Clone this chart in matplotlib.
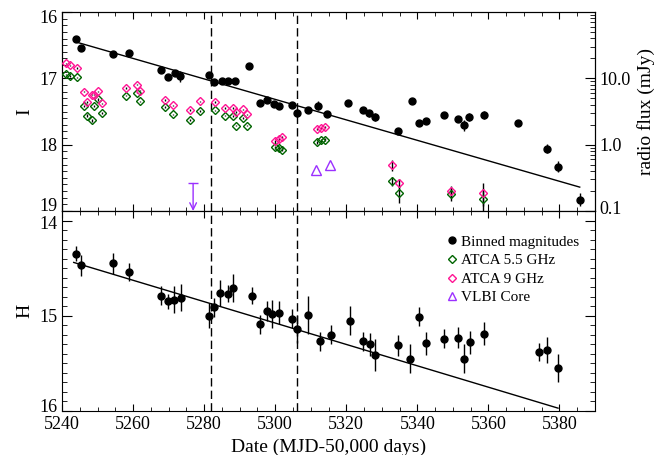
"""Optical (I, H) and radio light curves around the outburst."""

import matplotlib
matplotlib.use("Agg")
import matplotlib.pyplot as plt
from matplotlib.ticker import MultipleLocator, FixedLocator, FixedFormatter, LogLocator, NullFormatter
from matplotlib.transforms import ScaledTranslation

plt.rcParams["font.family"] = ["Liberation Serif", "DejaVu Serif"]

# ------------------------------------------------------------------ data
# I band binned magnitudes
i_days = [5243.8, 5245.4, 5254.4, 5258.9, 5267.8, 5269.8, 5271.9, 5273.3,
          5281.3, 5282.9, 5285.0, 5286.8, 5288.7, 5292.7, 5295.7, 5297.6,
          5299.6, 5301.2, 5304.7, 5306.2, 5309.1, 5312.1, 5314.7, 5320.6,
          5324.6, 5326.5, 5328.1, 5334.5, 5338.5, 5340.5, 5342.5, 5347.5,
          5351.4, 5353.0, 5354.6, 5358.8, 5368.3, 5376.6, 5379.5, 5385.7]
i_mag = [16.41, 16.55, 16.64, 16.62, 16.87, 16.98, 16.92, 16.97,
         16.95, 17.05, 17.04, 17.04, 17.04, 16.82, 17.37, 17.33,
         17.39, 17.41, 17.40, 17.52, 17.48, 17.41, 17.54, 17.37,
         17.48, 17.53, 17.59, 17.80, 17.34, 17.67, 17.64, 17.56,
         17.62, 17.71, 17.59, 17.55, 17.68, 18.06, 18.33, 18.83]
i_err = [0.03, 0.04, 0.03, 0.03, 0.03, 0.03, 0.03, 0.08,
         0.04, 0.03, 0.03, 0.03, 0.03, 0.03, 0.03, 0.03,
         0.03, 0.03, 0.03, 0.06, 0.05, 0.07, 0.03, 0.03,
         0.03, 0.05, 0.06, 0.03, 0.03, 0.03, 0.03, 0.03,
         0.03, 0.08, 0.06, 0.06, 0.03, 0.07, 0.08, 0.10]
i_fit_days = [5243.8, 5385.7]
i_fit_mag = [16.45, 18.64]

# H band binned magnitudes
h_days = [5243.9, 5245.4, 5254.4, 5258.9, 5267.8, 5269.8, 5271.4, 5273.4,
          5281.3, 5282.9, 5284.4, 5286.8, 5288.2, 5293.6, 5295.7, 5297.6,
          5299.2, 5301.2, 5304.7, 5306.2, 5309.1, 5312.6, 5315.8, 5321.0,
          5324.7, 5326.7, 5328.1, 5334.5, 5338.0, 5340.5, 5342.5, 5347.5,
          5351.4, 5353.0, 5354.9, 5358.8, 5374.2, 5376.6, 5379.5]
h_mag = [14.35, 14.47, 14.45, 14.54, 14.79, 14.85, 14.83, 14.81,
         15.00, 14.91, 14.76, 14.77, 14.71, 14.79, 15.09, 14.95,
         14.98, 14.97, 15.03, 15.14, 14.99, 15.27, 15.20, 15.05,
         15.27, 15.30, 15.41, 15.31, 15.45, 15.01, 15.29, 15.24,
         15.23, 15.45, 15.28, 15.19, 15.38, 15.36, 15.55]
h_err = [0.08, 0.11, 0.11, 0.09, 0.10, 0.08, 0.14, 0.14,
         0.13, 0.10, 0.14, 0.09, 0.15, 0.09, 0.10, 0.10,
         0.15, 0.12, 0.10, 0.15, 0.20, 0.10, 0.10, 0.15,
         0.10, 0.12, 0.17, 0.11, 0.15, 0.10, 0.12, 0.10,
         0.11, 0.15, 0.12, 0.12, 0.09, 0.14, 0.15]
h_fit_days = [5243.3, 5379.6]
h_fit_mag = [14.44, 15.97]

# ATCA radio flux (mJy)
atca_days = [5241.0, 5242.3, 5244.1, 5246.1, 5247.1, 5248.5, 5249.0, 5250.2,
             5251.3, 5258.1, 5261.1, 5262.0, 5269.0, 5271.2, 5276.1, 5278.9,
             5283.0, 5285.9, 5288.0, 5289.0, 5290.8, 5292.0, 5300.0, 5301.1,
             5302.0, 5311.9, 5313.0, 5314.0, 5332.8, 5334.8, 5349.6, 5358.6]
atca_55 = [11.5, 10.8, 10.3, 3.8, 2.75, 2.33, 3.8, 4.8,
           3.0, 5.5, 6.1, 4.5, 3.7, 2.85, 2.33, 3.2,
           3.3, 2.75, 2.7, 1.94, 2.5, 1.94, 0.92, 0.89,
           0.84, 1.08, 1.16, 1.19, 0.28, 0.19, 0.18, 0.152]
atca_55_err = [0.3, 0.3, 0.3, 0.1, 0.1, 0.1, 0.1, 0.2,
               0.1, 0.15, 0.15, 0.12, 0.1, 0.08, 0.07, 0.08,
               0.08, 0.07, 0.07, 0.06, 0.07, 0.06, 0.05, 0.05,
               0.05, 0.05, 0.05, 0.05, 0.04, 0.06, 0.04, 0.06]
atca_9 = [16.9, 15.7, 14.2, 6.3, 4.4, 5.7, 5.7, 6.4,
          4.2, 7.1, 8.0, 6.5, 4.7, 3.9, 3.3, 4.5,
          4.4, 3.6, 3.6, 3.1, 3.4, 2.85, 1.12, 1.22,
          1.29, 1.73, 1.79, 1.85, 0.49, 0.26, 0.20, 0.19]
atca_9_err = [0.4, 0.4, 0.4, 0.15, 0.12, 0.15, 0.15, 0.15,
              0.12, 0.2, 0.2, 0.15, 0.12, 0.1, 0.1, 0.1,
              0.1, 0.1, 0.1, 0.08, 0.09, 0.08, 0.05, 0.05,
              0.05, 0.06, 0.06, 0.06, 0.09, 0.04, 0.04, 0.07]

# VLBI core detections and upper limit (mJy)
vlbi_days = [5311.4, 5315.4]
vlbi_flux = [0.42, 0.50]
vlbi_limit_day = 5276.9
vlbi_limit_flux = 0.26

# dashed epochs
epochs = [5281.9, 5306.0]

BLACK = "black"
GREEN = "#006400"
PINK = "#ff1493"
PURPLE = "#9b30ff"

# ------------------------------------------------------------------ figure
fig = plt.figure(figsize=(6.62, 4.55), dpi=100)
W, H = 662.0, 455.0
ax_i = fig.add_axes([62 / W, 1 - 211 / H, 533 / W, 199 / H])
ax_h = fig.add_axes([62 / W, 1 - 411 / H, 533 / W, 200 / H], sharex=ax_i)

for ax in (ax_i, ax_h):
    for ep in epochs:
        ax.axvline(ep, color="black", lw=1, ls=(0, (6, 3)), zorder=1)

# I panel
ax_i.plot(i_fit_days, i_fit_mag, color="black", lw=1)
ax_i.errorbar(i_days, i_mag, yerr=i_err, fmt="o", color=BLACK, ms=5,
              elinewidth=1, capsize=0, zorder=4)
ax_i.set_xlim(5240, 5390)
ax_i.set_ylim(19, 16)
ax_i.set_ylabel("I", fontsize=14)
ax_i.yaxis.set_major_locator(MultipleLocator(1))
ax_i.yaxis.set_minor_locator(MultipleLocator(0.1))
ax_i.tick_params(labelbottom=False)

# radio axis on the right of the I panel
ax_r = ax_i.twinx()
ax_r.set_yscale("log")
ax_r.set_ylim(0.1, 100)
ax_r.errorbar(atca_days, atca_55, yerr=atca_55_err, fmt="D", ms=4.2,
              mfc="none", mec=GREEN, mew=1, ecolor="black", elinewidth=1,
              capsize=0, zorder=3)
ax_r.errorbar(atca_days, atca_9, yerr=atca_9_err, fmt="D", ms=4.2,
              mfc="none", mec=PINK, mew=1, ecolor="black", elinewidth=1,
              capsize=0, zorder=3)
ax_r.plot(vlbi_days, vlbi_flux, "^", ms=7, mfc="none", mec=PURPLE, mew=1)
ax_r.annotate("", xy=(vlbi_limit_day, 0.1), xytext=(vlbi_limit_day, vlbi_limit_flux),
              arrowprops=dict(arrowstyle="->", color=PURPLE, lw=1,
                              shrinkA=0, shrinkB=0, mutation_scale=12))
ax_r.plot([vlbi_limit_day], [vlbi_limit_flux], marker="_", ms=7, mew=1,
          color=PURPLE, ls="none")
ax_r.yaxis.set_major_locator(FixedLocator([0.1, 1.0, 10.0]))
ax_r.yaxis.set_major_formatter(FixedFormatter(["0.1", "1.0", "10.0"]))
ax_r.yaxis.set_minor_locator(LogLocator(base=10, subs=range(2, 10)))
ax_r.yaxis.set_minor_formatter(NullFormatter())
ax_r.set_ylabel("radio flux (mJy)", fontsize=14)
ax_r.tick_params(axis="y", which="major", direction="in", length=7, labelsize=13)
ax_r.tick_params(axis="y", which="minor", direction="in", length=3.5)

# H panel
ax_h.plot(h_fit_days, h_fit_mag, color="black", lw=1)
ax_h.errorbar(h_days, h_mag, yerr=h_err, fmt="o", color=BLACK, ms=5,
              elinewidth=1, capsize=0, zorder=4)
ax_h.set_ylim(16, 13.9)
ax_h.set_ylabel("H", fontsize=14)
ax_h.set_xlabel("Date (MJD-50,000 days)", fontsize=14)
ax_h.yaxis.set_major_locator(MultipleLocator(1))
ax_h.yaxis.set_minor_locator(MultipleLocator(0.1))
ax_h.xaxis.set_major_locator(MultipleLocator(20))
ax_h.xaxis.set_minor_locator(MultipleLocator(5))

for ax in (ax_i, ax_h):
    ax.tick_params(axis="x", which="major", direction="in", top=True, length=5, labelsize=13)
    ax.tick_params(axis="x", which="minor", direction="in", top=True, length=3)
    ax.tick_params(axis="y", which="major", direction="in", length=7, labelsize=13)
    ax.tick_params(axis="y", which="minor", direction="in", length=3.5)
ax_i.tick_params(axis="y", which="both", right=False)
ax_h.tick_params(axis="y", which="both", right=True)

# legend (markers only)
handles = [
    plt.Line2D([], [], ls="none", marker="o", ms=5, color=BLACK),
    plt.Line2D([], [], ls="none", marker="D", ms=4.2, mfc="none", mec=GREEN, mew=1),
    plt.Line2D([], [], ls="none", marker="D", ms=4.2, mfc="none", mec=PINK, mew=1),
    plt.Line2D([], [], ls="none", marker="^", ms=6, mfc="none", mec=PURPLE, mew=1),
]
labels = ["Binned magnitudes", "ATCA 5.5 GHz", "ATCA 9 GHz", "VLBI Core"]
ax_h.legend(handles, labels, loc="upper left", bbox_to_anchor=(0.7225, 0.88),
            frameon=False, fontsize=11, handlelength=0.6, handletextpad=0.3,
            labelspacing=0.32, borderpad=0, borderaxespad=0)

# edge tick labels sit inside the panel range, as in the original figure
fig.canvas.draw()


def nudge(axis, loc, dy_px):
    for tick in axis.get_major_ticks():
        if abs(tick.get_loc() - loc) < 1e-6:
            off = ScaledTranslation(0, dy_px / fig.dpi, fig.dpi_scale_trans)
            tick.label1.set_transform(tick.label1.get_transform() + off)
            tick.label2.set_transform(tick.label2.get_transform() + off)


nudge(ax_i.yaxis, 16, -4.5)
nudge(ax_i.yaxis, 19, 6.5)
nudge(ax_h.yaxis, 14, -1.5)
nudge(ax_h.yaxis, 16, 5)
nudge(ax_r.yaxis, 0.1, 3)

fig.savefig("out.png", dpi=100)
